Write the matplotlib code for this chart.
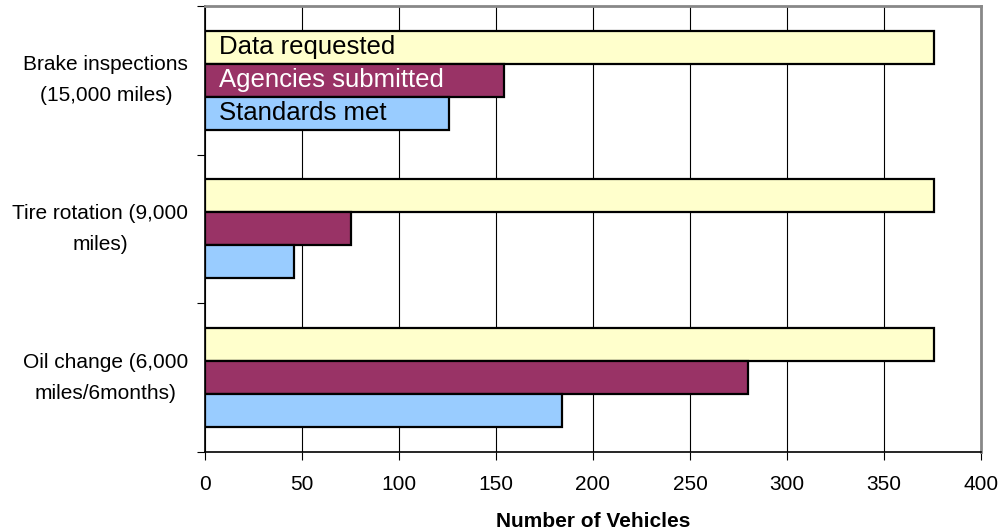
import numpy as np
import matplotlib.pyplot as plt

plt.rcParams['font.family'] = ['Liberation Sans', 'DejaVu Sans']

# Данные (снизу вверх)
categories = ["Oil change (6,000\nmiles/6months)",
              "Tire rotation (9,000\nmiles)",
              "Brake inspections\n(15,000 miles)"]
series_names = ["Data requested", "Agencies submitted", "Standards met"]
data_requested = [376, 376, 376]
agencies_submitted = [280, 75, 154]
standards_met = [184, 46, 126]
x_ticks = [0, 50, 100, 150, 200, 250, 300, 350, 400]

colors = ["#FFFFCC", "#993366", "#99CCFF"]
text_colors = ["black", "white", "black"]

fig = plt.figure(figsize=(10.01, 5.31), dpi=100)
ax = fig.add_axes([0.2048, 0.1488, 0.7752, 0.8399])

y = np.arange(len(categories)) + 0.5
h = 0.222
offsets = [h, 0, -h]
values = [data_requested, agencies_submitted, standards_met]

for vals, off, col in zip(values, offsets, colors):
    ax.barh(y + off, vals, height=h, color=col, edgecolor='black',
            linewidth=1.6, zorder=3)

# подписи серий внутри верхней группы
for name, off, tc in zip(series_names, offsets, text_colors):
    ax.annotate(name, xy=(0, y[-1] + off), xytext=(10, 0),
                textcoords='offset points', va='center', ha='left',
                fontsize=18.5, color=tc, zorder=4)

ax.set_xlim(0, 400)
ax.set_ylim(0, 3)
ax.set_xticks(x_ticks)
ax.xaxis.grid(True, color='black', linewidth=0.8, zorder=0)

ax.set_yticks([0, 1, 2, 3])
ax.set_yticklabels([])
ax.set_yticks(y, minor=True)
ax.set_yticklabels(categories, minor=True, fontsize=15, va='center',
                   multialignment='center', linespacing=1.8)
ax.tick_params(axis='y', which='minor', length=0, pad=12)
ax.tick_params(axis='y', which='major', length=6, width=0.8, direction='out')
ax.tick_params(axis='x', length=6, width=0.8, direction='out',
               labelsize=15, pad=10.5)

for s in ['left', 'bottom']:
    ax.spines[s].set_color('black')
    ax.spines[s].set_linewidth(1.2)
for s in ['top', 'right']:
    ax.spines[s].set_color('#888888')
    ax.spines[s].set_linewidth(2)

ax.set_xlabel("Number of Vehicles", fontsize=15, fontweight='bold', labelpad=13)

fig.savefig("out.png", dpi=100)
